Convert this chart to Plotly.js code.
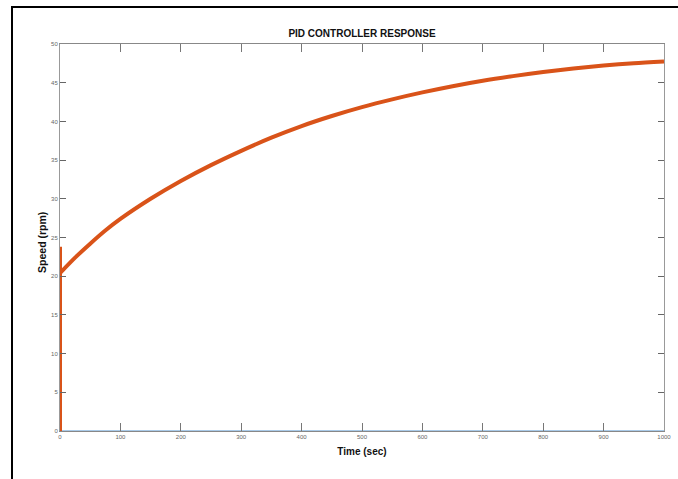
<!DOCTYPE html>
<html>
<head>
<meta charset="utf-8">
<script src="https://cdn.plot.ly/plotly-3.0.1.min.js"></script>
<style>
  html, body { margin: 0; padding: 0; background: #ffffff; }
  #chart { width: 678px; height: 479px; position: relative; }
  #frame { position: absolute; left: 11px; top: 6px; width: 700px; height: 500px;
           border-left: 2.5px solid #000; border-top: 2.5px solid #000; pointer-events: none; }
</style>
</head>
<body>
<div id="chart"></div>
<div id="frame"></div>
<script>
// Initial kick at t = 0 (derivative spike)
const kickTime = [0, 0, 0];
const kickSpeed = [0, 23.8, 20.4];

// Response curve
const timeSec = [0, 25, 50, 75, 100, 150, 200, 250, 300, 350, 400, 450, 500,
                 550, 600, 650, 700, 750, 800, 850, 900, 950, 1000];
const speedRpm = [20.4, 22.4, 24.2, 25.9, 27.4, 30.0, 32.3, 34.35, 36.2, 37.9, 39.4, 40.7, 41.85,
                  42.85, 43.75, 44.55, 45.25, 45.85, 46.38, 46.84, 47.22, 47.52, 47.75];

// Reference line at zero
const zeroTime = [0, 1000];
const zeroSpeed = [0, 0];

const xTicks = [0, 100, 200, 300, 400, 500, 600, 700, 800, 900, 1000];
const yTicks = [0, 5, 10, 15, 20, 25, 30, 35, 40, 45, 50];

const orange = '#D95319';

const traces = [
  { x: zeroTime, y: zeroSpeed, mode: 'lines', line: { color: '#8DB9E0', width: 1.5 }, hoverinfo: 'skip' },
  { x: kickTime, y: kickSpeed, mode: 'lines', line: { color: orange, width: 4 } },
  { x: timeSec, y: speedRpm, mode: 'lines', line: { color: orange, width: 4, shape: 'spline', smoothing: 0.8 } }
];

const tickFont = { family: 'Liberation Sans, Arial, sans-serif', size: 6, color: '#666' };

const layout = {
  width: 678, height: 479,
  margin: { l: 60, r: 14, t: 44, b: 47.5 },
  paper_bgcolor: '#ffffff', plot_bgcolor: '#ffffff',
  showlegend: false,
  title: {
    text: '<b>PID CONTROLLER RESPONSE</b>',
    font: { family: 'Liberation Sans, Arial, sans-serif', size: 10, color: '#111' },
    x: 0.5, xref: 'paper', xanchor: 'center', y: 0.931, yref: 'container', yanchor: 'middle'
  },
  xaxis: {
    range: [0, 1000], tickvals: xTicks, ticktext: xTicks.map(String),
    ticks: 'inside', ticklen: 8, tickwidth: 1, tickcolor: '#777',
    showline: true, linecolor: '#888', linewidth: 1, mirror: 'ticks',
    showgrid: false, zeroline: false, tickfont: tickFont,
    title: { text: '<b>Time (sec)</b>', font: { family: 'Liberation Sans, Arial, sans-serif', size: 10, color: '#111' }, standoff: 8 }
  },
  yaxis: {
    range: [0, 50], tickvals: yTicks, ticktext: yTicks.map(String),
    ticks: 'inside', ticklen: 6, tickwidth: 1, tickcolor: '#666',
    showline: true, linecolor: '#999', linewidth: 1, mirror: 'ticks',
    showgrid: false, zeroline: false, tickfont: tickFont
  },
  annotations: [{
    text: '<b>Speed (rpm)</b>', xref: 'paper', yref: 'paper',
    x: -0.0298, y: 0.486, xanchor: 'center', yanchor: 'middle', textangle: -90, showarrow: false,
    font: { family: 'Liberation Sans, Arial, sans-serif', size: 10.5, color: '#111' }
  }]
};

Plotly.newPlot('chart', traces, layout, { displayModeBar: false, staticPlot: true });
</script>
</body>
</html>
